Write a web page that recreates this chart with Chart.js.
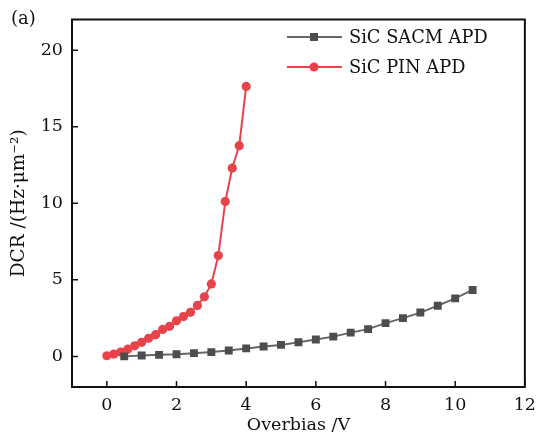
<!DOCTYPE html>
<html>
<head>
<meta charset="utf-8">
<script src="https://cdn.jsdelivr.net/npm/chart.js@4/dist/chart.umd.min.js"></script>
<style>
html,body{margin:0;padding:0;background:#fff;}
#wrap{width:544px;height:437px;position:relative;}
</style>
</head>
<body>
<div id="wrap"><canvas id="c" width="544" height="437"></canvas></div>
<script>
// ---- data ----
const sacmX = [0.5,1.0,1.5,2.0,2.5,3.0,3.5,4.0,4.5,5.0,5.5,6.0,6.5,7.0,7.5,8.0,8.5,9.0,9.5,10.0,10.5];
const sacmY = [0.0,0.06,0.10,0.14,0.21,0.28,0.38,0.52,0.65,0.75,0.92,1.10,1.29,1.55,1.78,2.17,2.50,2.86,3.31,3.79,4.34];
const pinX = [0,0.2,0.4,0.6,0.8,1.0,1.2,1.4,1.6,1.8,2.0,2.2,2.4,2.6,2.8,3.0,3.2,3.4,3.6,3.8,4.0];
const pinY = [0.04,0.15,0.28,0.47,0.69,0.92,1.18,1.42,1.76,1.96,2.32,2.60,2.88,3.33,3.89,4.73,6.58,10.11,12.30,13.76,17.63];
const xTickValues = [0,2,4,6,8,10,12];
const yTickValues = [0,5,10,15,20];
const seriesNames = ['SiC SACM APD','SiC PIN APD'];
const panelLabel = '(a)';
const xTitle = 'Overbias /V';
const yTitle = 'DCR /(Hz\u00B7\u03BCm\u207B\u00B2)';

const FONT = '"DejaVu Serif", serif';
const GRAY = '#4d4d4d';
const RED = '#e8424b';

const toPts = (xs, ys) => xs.map((x, i) => ({x: x, y: ys[i]}));

const framePlugin = {
  id: 'frame',
  afterDraw(chart) {
    const ctx = chart.ctx;
    const a = chart.chartArea;
    const xs = chart.scales.x, ys = chart.scales.y;
    ctx.save();
    ctx.strokeStyle = '#111';
    ctx.lineWidth = 2;
    ctx.strokeRect(a.left, a.top, a.right - a.left, a.bottom - a.top);
    ctx.lineWidth = 1.5;
    ctx.beginPath();
    xs.ticks.forEach(t => {
      const px = xs.getPixelForValue(t.value);
      ctx.moveTo(px, a.bottom);
      ctx.lineTo(px, a.bottom - 6);
    });
    ys.ticks.forEach(t => {
      const py = ys.getPixelForValue(t.value);
      ctx.moveTo(a.left, py);
      ctx.lineTo(a.left + 6, py);
    });
    ctx.stroke();

    // panel label
    ctx.fillStyle = '#111';
    ctx.font = '18px ' + FONT;
    ctx.textAlign = 'left';
    ctx.textBaseline = 'middle';
    ctx.fillText(panelLabel, 11, 19);

    // legend
    const rows = [
      {y: 37, color: GRAY, lineColor: '#666', style: 'rect', name: seriesNames[0]},
      {y: 67, color: RED, lineColor: RED, style: 'circle', name: seriesNames[1]}
    ];
    rows.forEach(r => {
      ctx.strokeStyle = r.lineColor;
      ctx.lineWidth = 2;
      ctx.beginPath();
      ctx.moveTo(287, r.y);
      ctx.lineTo(342, r.y);
      ctx.stroke();
      ctx.fillStyle = r.color;
      ctx.beginPath();
      if (r.style === 'rect') {
        ctx.rect(314 - 4, r.y - 4, 8, 8);
      } else {
        ctx.arc(314, r.y, 4.6, 0, Math.PI * 2);
      }
      ctx.fill();
      ctx.fillStyle = '#111';
      ctx.font = '17.8px ' + FONT;
      ctx.textAlign = 'left';
      ctx.textBaseline = 'middle';
      ctx.fillText(r.name, 349, r.y + 1);
    });
    ctx.restore();
  }
};

new Chart(document.getElementById('c'), {
  type: 'line',
  data: {
    datasets: [
      {
        label: seriesNames[0],
        data: toPts(sacmX, sacmY),
        borderColor: '#666',
        backgroundColor: GRAY,
        borderWidth: 2,
        pointStyle: 'rect',
        pointRadius: 5.6,
        pointBorderWidth: 0,
        pointBackgroundColor: GRAY,
        tension: 0
      },
      {
        label: seriesNames[1],
        data: toPts(pinX, pinY),
        borderColor: RED,
        backgroundColor: RED,
        borderWidth: 2,
        pointStyle: 'circle',
        pointRadius: 4.6,
        pointBorderWidth: 0,
        pointBackgroundColor: RED,
        tension: 0
      }
    ]
  },
  options: {
    responsive: false,
    animation: false,
    devicePixelRatio: 1,
    layout: {padding: {top: 15, right: 11, left: 0, bottom: 0}},
    plugins: {legend: {display: false}, tooltip: {enabled: false}},
    scales: {
      x: {
        type: 'linear',
        min: -1, max: 12,
        afterBuildTicks: s => { s.ticks = xTickValues.map(v => ({value: v})); },
        afterFit: s => { s.height = 50; },
        grid: {display: false, drawTicks: false},
        border: {display: false},
        ticks: {color: '#111', font: {family: FONT, size: 17.5}, padding: 8, maxRotation: 0},
        title: {display: true, text: xTitle, color: '#111', font: {family: FONT, size: 17.5}, padding: {top: 0, bottom: 1}}
      },
      y: {
        type: 'linear',
        min: -2, max: 22,
        afterBuildTicks: s => { s.ticks = yTickValues.map(v => ({value: v})); },
        afterFit: s => { s.width = 72; },
        grid: {display: false, drawTicks: false},
        border: {display: false},
        ticks: {color: '#111', font: {family: FONT, size: 17.5}, padding: 9},
        title: {display: true, text: yTitle, color: '#111', font: {family: FONT, size: 18.5}, padding: {top: 8, bottom: 0}}
      }
    }
  },
  plugins: [framePlugin]
});
</script>
</body>
</html>
